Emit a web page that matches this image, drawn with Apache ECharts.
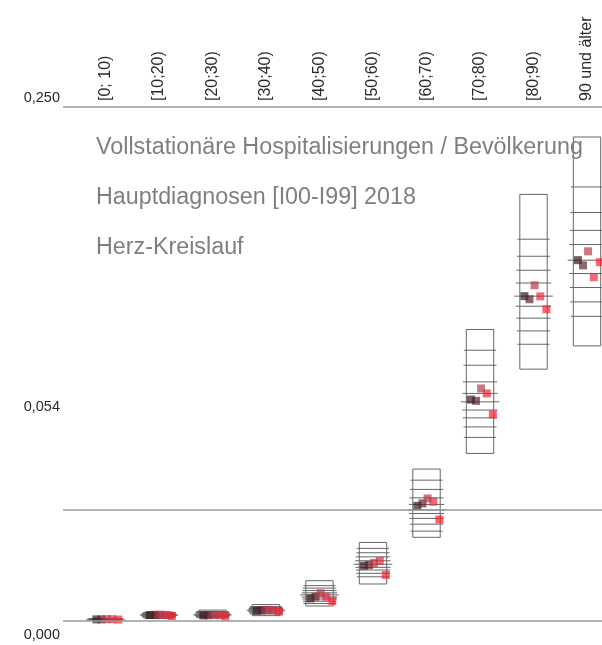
<!DOCTYPE html>
<html>
<head>
<meta charset="utf-8">
<title>Vollstationäre Hospitalisierungen / Bevölkerung</title>
<script src="https://cdn.jsdelivr.net/npm/echarts@6/dist/echarts.min.js"></script>
<style>
  html, body { margin: 0; padding: 0; background: #fff; }
  #chart { width: 602px; height: 645px; }
</style>
</head>
<body>
<div id="chart"></div>
<script>
// Altersgruppen
const ageGroups = ['[0; 10)', '[10;20)', '[20;30)', '[30;40)', '[40;50)', '[50;60)', '[60;70)', '[70;80)', '[80;90)', '90 und älter'];

// Spannweite (Rahmen) je Altersgruppe
const boxLow  = [0.0003, 0.0012, 0.0015, 0.0026, 0.0073, 0.0180, 0.0407, 0.0815, 0.1225, 0.1338];
const boxHigh = [0.0013, 0.0044, 0.0053, 0.0080, 0.0196, 0.0382, 0.0739, 0.1418, 0.2075, 0.2354];

// Querstriche (Quantile) je Altersgruppe
const quantileLines = [
  [0.0012, 0.0011, 0.0010, 0.0009, 0.0008, 0.0007, 0.0006, 0.0005, 0.0004],
  [0.0041, 0.0038, 0.0035, 0.0032, 0.0029, 0.0026, 0.0023, 0.0020, 0.0016],
  [0.0046, 0.0042, 0.0038, 0.0034, 0.0030, 0.0027, 0.0024, 0.0021, 0.0018],
  [0.0070, 0.0065, 0.0061, 0.0057, 0.0052, 0.0048, 0.0044, 0.0039, 0.0034],
  [0.0172, 0.0160, 0.0148, 0.0137, 0.0127, 0.0117, 0.0107, 0.0096, 0.0085],
  [0.0353, 0.0332, 0.0312, 0.0293, 0.0276, 0.0261, 0.0248, 0.0232, 0.0215],
  [0.0685, 0.0640, 0.0599, 0.0567, 0.0540, 0.0523, 0.0499, 0.0471, 0.0437],
  [0.1317, 0.1244, 0.1163, 0.1107, 0.1066, 0.1026, 0.0988, 0.0944, 0.0893],
  [0.1857, 0.1774, 0.1706, 0.1644, 0.1580, 0.1531, 0.1473, 0.1411, 0.1346],
  [0.2111, 0.1987, 0.1900, 0.1831, 0.1755, 0.1690, 0.1622, 0.1552, 0.1482]
];

// Einzelwerte (dunkel -> rot)
const points1 = [0.0008, 0.0029, 0.0027, 0.0050, 0.0110, 0.0269, 0.0560, 0.1077, 0.1580, 0.1755];
const points2 = [0.0008, 0.0030, 0.0028, 0.0052, 0.0118, 0.0272, 0.0572, 0.1071, 0.1565, 0.1730];
const points3 = [0.0009, 0.0031, 0.0030, 0.0054, 0.0135, 0.0282, 0.0596, 0.1131, 0.1633, 0.1798];
const points4 = [0.0009, 0.0030, 0.0029, 0.0053, 0.0118, 0.0292, 0.0580, 0.1107, 0.1579, 0.1672];
const points5 = [0.0007, 0.0024, 0.0022, 0.0045, 0.0097, 0.0224, 0.0494, 0.1005, 0.1516, 0.1745];

// Referenzlinien
const refLines = [0, 0.054, 0.25];

const pointSets = [points1, points2, points3, points4, points5];
const pointColors = ['#2e1216', '#5a1f29', '#b83345', '#e0283a', '#ff1a2a'];
const pointOffsets = [-0.17, -0.075, 0.02, 0.127, 0.24];
const boxHalf = 0.256;
const lineHalf = [0.30, 0.31, 0.32, 0.33, 0.36, 0.33, 0.32, 0.31, 0.30];

const chart = echarts.init(document.getElementById('chart'), null, { renderer: 'canvas' });

function renderBox(params, api) {
  const i = api.value(0);
  const lo = api.coord([i - boxHalf, api.value(1)]);
  const hi = api.coord([i + boxHalf, api.value(2)]);
  const children = [{
    type: 'rect',
    shape: { x: lo[0], y: hi[1], width: hi[0] - lo[0], height: lo[1] - hi[1] },
    style: { fill: 'none', stroke: '#666666', lineWidth: 1 }
  }];
  for (let k = 0; k < lineHalf.length; k++) {
    const a = api.coord([i - lineHalf[k], api.value(3 + k)]);
    const b = api.coord([i + lineHalf[k], api.value(3 + k)]);
    children.push({
      type: 'line',
      shape: { x1: a[0], y1: a[1], x2: b[0], y2: b[1] },
      style: { stroke: '#666666', lineWidth: 1 }
    });
  }
  return { type: 'group', children: children };
}

const series = [{
  type: 'custom',
  name: 'Spannweite',
  renderItem: renderBox,
  encode: { x: 0, y: [1, 2] },
  data: ageGroups.map((g, i) => [i, boxLow[i], boxHigh[i]].concat(quantileLines[i])),
  z: 2
}];

pointSets.forEach((set, k) => {
  const s = {
    type: 'scatter',
    name: 'Wert ' + (k + 1),
    symbol: 'rect',
    symbolSize: 8,
    itemStyle: { color: pointColors[k], opacity: 0.68 },
    data: set.map((v, i) => [i + pointOffsets[k], v]),
    z: 3
  };
  if (k === 0) {
    s.markLine = {
      silent: true,
      symbol: 'none',
      precision: 4,
      label: { show: false },
      lineStyle: { color: '#9a9a9a', width: 1.5, type: 'solid' },
      data: refLines.map(v => ({ yAxis: v }))
    };
  }
  series.push(s);
});

function yLabel(v) {
  const txt = v.toFixed(3).replace('.', ',');
  if (v === 0) return '{bot|' + txt + '}';
  if (v === 0.25) return '{top|' + txt + '}';
  return '{mid|' + txt + '}';
}

chart.setOption({
  animation: false,
  backgroundColor: '#ffffff',
  textStyle: { fontFamily: 'Liberation Sans, Arial, sans-serif' },
  title: {
    text: 'Vollstationäre Hospitalisierungen / Bevölkerung\nHauptdiagnosen [I00-I99] 2018\nHerz-Kreislauf',
    left: 96,
    top: 123,
    padding: 0,
    textStyle: {
      fontFamily: 'Liberation Sans, Arial, sans-serif',
      fontSize: 23.3,
      fontWeight: 'normal',
      color: '#7f7f7f',
      lineHeight: 50
    }
  },
  grid: { left: 63, right: 0, top: 107, bottom: 24, containLabel: false },
  xAxis: {
    type: 'value',
    position: 'top',
    min: -0.794,
    max: 9.28,
    axisLine: { show: false },
    axisTick: { show: false },
    splitLine: { show: false },
    axisLabel: {
      customValues: ageGroups.map((g, i) => i),
      formatter: v => ageGroups[v],
      rotate: 90,
      margin: 6,
      fontSize: 16,
      color: '#2a2a2a'
    }
  },
  yAxis: {
    type: 'value',
    min: 0,
    max: 0.25,
    axisLine: { show: false },
    axisTick: { show: false },
    splitLine: { show: false },
    axisLabel: {
      customValues: refLines,
      formatter: yLabel,
      margin: 3,
      color: '#2a2a2a',
      fontSize: 14.5,
      rich: {
        top: { fontSize: 14.5, color: '#2a2a2a', padding: [0, 0, 18, 0] },
        mid: { fontSize: 14.5, color: '#2a2a2a', padding: [0, 0, 206, 0] },
        bot: { fontSize: 14.5, color: '#2a2a2a', padding: [28, 0, 0, 0] }
      }
    }
  },
  series: series
});
</script>
</body>
</html>
